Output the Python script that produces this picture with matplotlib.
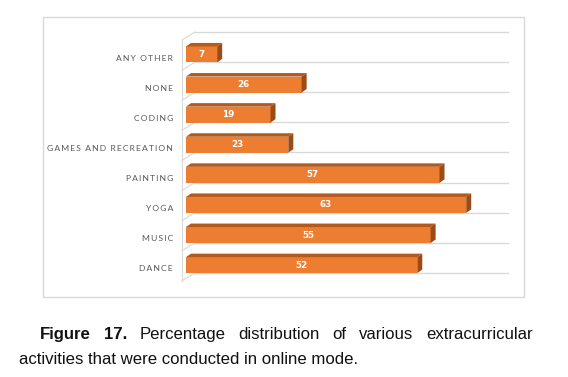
import matplotlib
matplotlib.use("Agg")
import matplotlib.pyplot as plt
from matplotlib.patches import Polygon, Rectangle

# Data (top to bottom as shown)
categories = ["ANY OTHER", "NONE", "CODING", "GAMES AND RECREATION",
              "PAINTING", "YOGA", "MUSIC", "DANCE"]
values = [7, 26, 19, 23, 57, 63, 55, 52]

caption_line1 = "Figure 17. Percentage distribution of various extracurricular"
caption_line2 = "activities that were conducted in online mode."

W, H = 568, 377
fig = plt.figure(figsize=(W / 100, H / 100), dpi=100)

# chart area border
fig.add_artist(Rectangle((43 / W, 1 - 297 / H), (524 - 43) / W, (297 - 17) / H,
                         transform=fig.transFigure, fill=False,
                         edgecolor="#d9d9d9", lw=1))

# plot area in pixels
x0, x1, y0, y1 = 186, 508, 32, 272.8
ax = fig.add_axes([x0 / W, 1 - y1 / H, (x1 - x0) / W, (y1 - y0) / H])
XMAX = 72.4
ax.set_xlim(0, XMAX)
ax.set_ylim(len(categories), 0)
ax.axis("off")

px_x = XMAX / (x1 - x0)
px_y = len(categories) / (y1 - y0)

# floor / wall lines of the 3D look
grid_c = "#d9d9d9"
gx = 9 * px_x
for k in range(len(categories) + 1):
    ax.plot([gx, XMAX], [k, k], color=grid_c, lw=1, zorder=1, clip_on=False)
    ax.plot([gx - 13 * px_x, gx], [k + 8 * px_y, k], color=grid_c, lw=0.8,
            zorder=1, clip_on=False)
ax.plot([gx - 13 * px_x] * 2, [8 * px_y, len(categories) + 8 * px_y],
        color=grid_c, lw=0.8, zorder=1, clip_on=False)

# bars
front_c, top_c, side_c = "#ED7D31", "#b35a1e", "#9c4a16"
bar_top, bar_h = 0.48, 0.53
dx, dy = 5 * px_x, 3.5 * px_y
ypos = [i + bar_top for i in range(len(categories))]
ax.barh(ypos, values, height=bar_h, align="edge", color=front_c, zorder=3)

for i, v in enumerate(values):
    yt = ypos[i]
    yb = yt + bar_h
    ax.add_patch(Polygon([(0, yt), (v, yt), (v + dx, yt - dy), (dx, yt - dy)],
                         closed=True, facecolor=top_c, edgecolor="none", zorder=3))
    ax.add_patch(Polygon([(v, yt), (v + dx, yt - dy), (v + dx, yb - dy), (v, yb)],
                         closed=True, facecolor=side_c, edgecolor="none", zorder=3))
    ax.text(v / 2, yt + bar_h / 2, str(v), color="white", fontsize=6.3,
            fontweight="bold", ha="center", va="center", zorder=4)
    ax.text(-13 * px_x, i + 0.87, "\u2009".join(categories[i]), ha="right",
            va="center", fontsize=6.1, color="#595959",
            family=["Lato", "DejaVu Sans"])

# caption, sized so line 2 spans the same width as in the figure
cap_font = ["Liberation Sans", "DejaVu Sans"]
renderer = fig.canvas.get_renderer()
line2 = fig.text(19 / W, 1 - 364 / H, caption_line2, fontsize=12, family=cap_font,
                 color="#111111", ha="left", va="baseline")
fs = 12 * 338 / line2.get_window_extent(renderer).width
line2.set_fontsize(fs)

words = caption_line1.split()
texts = []
for j, w in enumerate(words):
    t = fig.text(0, 1 - 339 / H, w, fontsize=fs, family=cap_font,
                 fontweight="bold" if j < 2 else "normal", color="#111111",
                 ha="left", va="baseline")
    texts.append(t)
widths = [t.get_window_extent(renderer).width for t in texts]
left, right = 40, 533
gap = (right - left - sum(widths)) / (len(words) - 1)
xp = left
for t, w in zip(texts, widths):
    t.set_x(xp / W)
    xp += w + gap

fig.savefig("out.png", dpi=100)
